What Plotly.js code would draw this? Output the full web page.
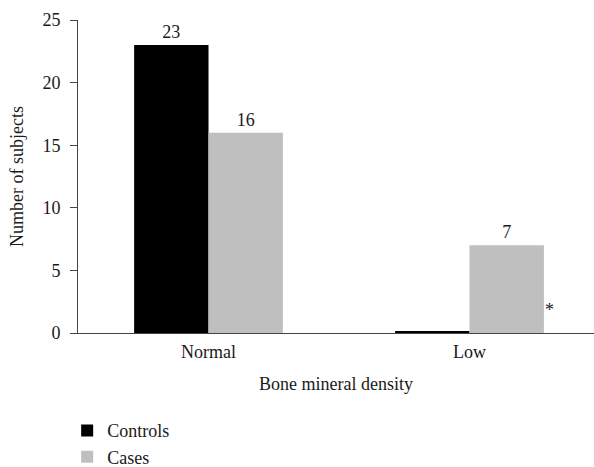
<!DOCTYPE html>
<html>
<head>
<meta charset="utf-8">
<script src="https://cdn.plot.ly/plotly-3.0.1.min.js"></script>
<style>body{margin:0;padding:0;background:#fff;} #chart{width:594px;height:467px;}</style>
</head>
<body>
<div id="chart"></div>
<script>
const categories = ['Normal', 'Low'];
const controls = [23, 0.15];
const cases = [16, 7];
const seriesNames = ['Controls', 'Cases'];
const yTicks = [0, 5, 10, 15, 20, 25];

const font = {family: 'Liberation Serif, Times New Roman, serif', size: 18, color: '#1a1a1a'};
const lbl = v => v >= 1 ? String(v) : '';

const traces = [
  {type: 'bar', name: seriesNames[0], x: categories, y: controls, marker: {color: '#000000'},
   text: controls.map(lbl), textposition: 'outside', cliponaxis: false, textfont: font, hoverinfo: 'none'},
  {type: 'bar', name: seriesNames[1], x: categories, y: cases, marker: {color: '#bfbfbf'},
   text: cases.map(lbl), textposition: 'outside', cliponaxis: false, textfont: font, hoverinfo: 'none'}
];

const layout = {
  width: 594, height: 467,
  margin: {l: 78, r: 0, t: 20, b: 134, autoexpand: false},
  paper_bgcolor: '#fff', plot_bgcolor: '#fff',
  font: font,
  barmode: 'group', bargap: 0.43, bargroupgap: 0,
  showlegend: true,
  legend: {x: -0.021, y: -0.253, xanchor: 'left', yanchor: 'top', orientation: 'v', font: font,
           tracegroupgap: 0, bgcolor: 'rgba(0,0,0,0)'},
  xaxis: {range: [-0.5, 1.477], showline: true, linecolor: '#444', linewidth: 1, ticks: '', showgrid: false,
          zeroline: false, ticklabelstandoff: 2,
          title: {text: 'Bone mineral density', font: font, standoff: 16}, tickfont: font},
  yaxis: {range: [0, 25], tickvals: yTicks, showline: true, linecolor: '#444', linewidth: 1, ticks: 'outside',
          ticklen: 7, tickcolor: '#444', showgrid: false, zeroline: false, ticklabelstandoff: 6,
          title: {text: 'Number of subjects', font: font, standoff: 14}, tickfont: font},
  annotations: [{x: categories[1], y: 1.8, text: '*', showarrow: false, xshift: 80, font: font}]
};

Plotly.newPlot('chart', traces, layout, {displayModeBar: false, staticPlot: true});
</script>
</body>
</html>
